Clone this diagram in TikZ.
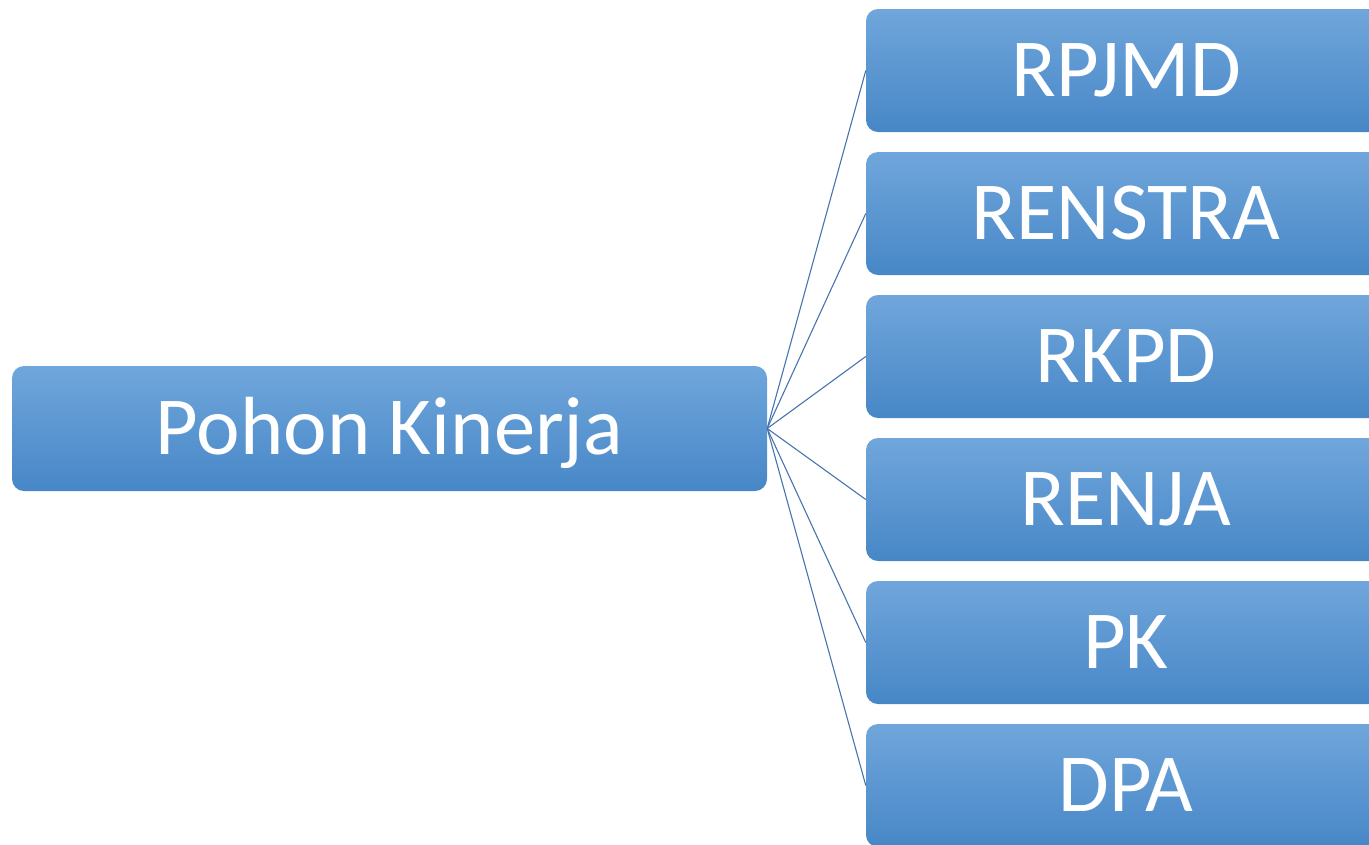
\documentclass[tikz,border=0pt]{standalone}
\usepackage{fontspec}
\setmainfont{Carlito}
\definecolor{boxtop}{HTML}{70A6DB}
\definecolor{boxmid}{HTML}{549CDE}
\definecolor{boxbot}{HTML}{4787C7}
\definecolor{linkcol}{HTML}{4675AD}
\begin{document}
\begin{tikzpicture}[x=1pt,y=-1pt]
\tikzset{box/.style={rounded corners=12pt,inner sep=0pt,
  top color=boxtop,middle color=boxmid,bottom color=boxbot,
  text=white,font=\fontsize{82.5}{96}\selectfont,
  text height=55pt,text depth=3pt},
  link/.style={draw=linkcol,line width=1.1pt}}

\useasboundingbox (0,0) rectangle (1369,844);
\clip (0,0) rectangle (1369,844);

% root box
\node[box,minimum width=755pt,minimum height=125pt] (pk) at (389.5,428.5) {Pohon Kinerja};

% document boxes
\foreach \n/\t [count=\i from 0] in {rpjmd/RPJMD,renstra/RENSTRA,rkpd/RKPD,renja/RENJA,pkbox/PK,dpa/DPA}
  \node[box,minimum width=520pt,minimum height=123pt] (\n) at (1126,70.5+143*\i) {\t};

% links
\foreach \n in {rpjmd,renstra,rkpd,renja,pkbox,dpa}
  \draw[link] (pk.east) -- (\n.west);
\end{tikzpicture}
\end{document}
